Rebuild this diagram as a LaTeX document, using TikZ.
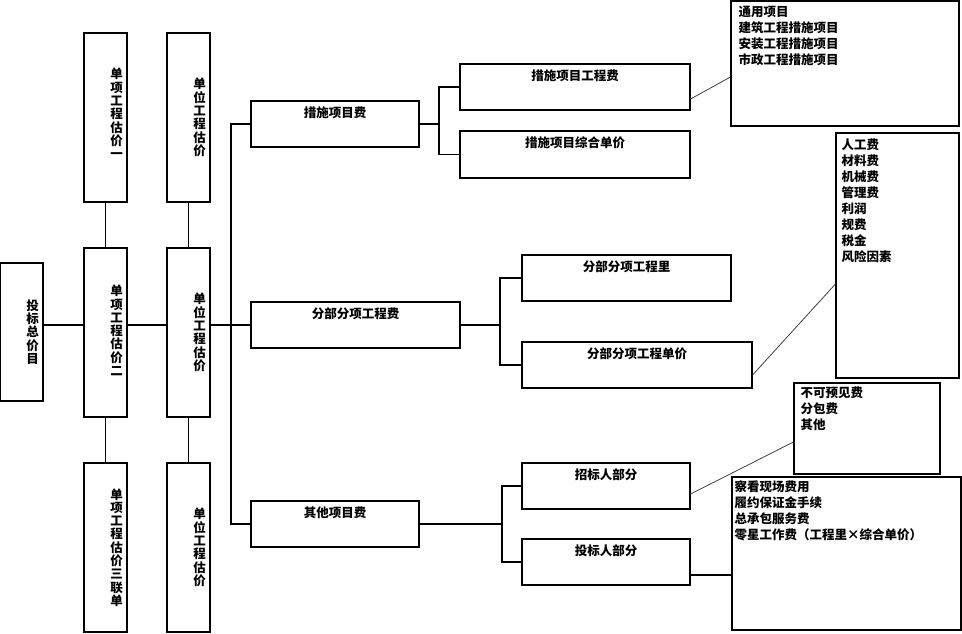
\documentclass[tikz,border=0pt]{standalone}
\usepackage{fontspec}
\setmainfont{Noto Sans CJK SC}
\usetikzlibrary{calc}
\begin{document}
\begin{tikzpicture}[x=1pt,y=-1pt,
  box/.style={draw=black,line width=1.1pt,inner sep=0pt,fill=white},
  lbl/.style={inner sep=0pt,font=\fontsize{12.5}{16}\selectfont\bfseries},
  vlbl/.style={inner sep=0pt,align=center,font=\fontsize{12.5}{13.3}\selectfont\bfseries},
  lst/.style={inner sep=0pt,anchor=north west,align=left,font=\fontsize{12.5}{16}\selectfont\bfseries},
  conn/.style={line width=1.1pt},
  diag/.style={line width=0.8pt,draw=black!75}]
\useasboundingbox (0,0) rectangle (962,633);
% left column boxes
\node[box,minimum width=42.5pt,minimum height=138pt] (tb) at (21.75,332) {};
\node[box,minimum width=43pt,minimum height=169pt] (d1) at (105.5,117.5) {};
\node[box,minimum width=43pt,minimum height=169pt] (u1) at (188.5,117.5) {};
\node[box,minimum width=43pt,minimum height=169pt] (d2) at (105.5,332.5) {};
\node[box,minimum width=43pt,minimum height=169pt] (u2) at (188.5,332.5) {};
\node[box,minimum width=43pt,minimum height=169pt] (d3) at (105.5,547.5) {};
\node[box,minimum width=43pt,minimum height=169pt] (u3) at (188.5,547.5) {};
\node[vlbl] (tbt) at ([xshift=11pt]tb.center) {投\\标\\总\\价\\目};
\node[vlbl] (d1t) at ([xshift=11pt,yshift=4pt]d1.center) {单\\项\\工\\程\\估\\价\\一};
\node[vlbl] (u1t) at ([xshift=11pt]u1.center) {单\\位\\工\\程\\估\\价};
\node[vlbl] (d2t) at ([xshift=11pt,yshift=2pt]d2.center) {单\\项\\工\\程\\估\\价\\二};
\node[vlbl] (u2t) at ([xshift=11pt]u2.center) {单\\位\\工\\程\\估\\价};
\node[vlbl] (d3t) at ([xshift=11pt]d3.center) {单\\项\\工\\程\\估\\价\\三\\联\\单};
\node[vlbl] (u3t) at ([xshift=11pt]u3.center) {单\\位\\工\\程\\估\\价};
% middle boxes
\node[box,minimum width=168pt,minimum height=46pt] (c1) at (335,124) {};
\node[box,minimum width=209pt,minimum height=46pt] (c2) at (355.5,325) {};
\node[box,minimum width=168pt,minimum height=46pt] (c3) at (335,524) {};
\node[box,minimum width=230pt,minimum height=46pt] (m1) at (575,87) {};
\node[box,minimum width=230pt,minimum height=47pt] (m2) at (575,154.5) {};
\node[box,minimum width=209pt,minimum height=46pt] (s1) at (626.5,278) {};
\node[box,minimum width=230pt,minimum height=46pt] (s2) at (637,365) {};
\node[box,minimum width=168pt,minimum height=46pt] (o1) at (606,486) {};
\node[box,minimum width=168pt,minimum height=46pt] (o2) at (606,562) {};
\foreach \n/\t in {c1/措施项目费,c2/分部分项工程费,c3/其他项目费,m1/措施项目工程费,m2/措施项目综合单价,s1/分部分项工程里,s2/分部分项工程单价,o1/招标人部分,o2/投标人部分}
  \node[lbl] (\n t) at ([yshift=-12.5pt]\n.north) {\t};
% list boxes
\node[box,minimum width=228pt,minimum height=125pt] (B1) at (845,63.5) {};
\node[box,minimum width=123pt,minimum height=245pt] (B2) at (897.5,255.5) {};
\node[box,minimum width=146pt,minimum height=91pt] (B3) at (867,428.5) {};
\node[box,minimum width=229pt,minimum height=153pt] (B4) at (846.5,553.5) {};
\node[lst] (B1t) at ([xshift=8pt,yshift=-5pt]B1.north west) {通用项目\\建筑工程措施项目\\安装工程措施项目\\市政工程措施项目};
\node[lst] (B2t) at ([xshift=6pt,yshift=-6pt]B2.north west) {人工费\\材料费\\机械费\\管理费\\利润\\规费\\税金\\风险因素};
\node[lst] (B3t) at ([xshift=7pt,yshift=-4pt]B3.north west) {不可预见费\\分包费\\其他};
\node[lst] (B4t) at ([xshift=3pt,yshift=-4pt]B4.north west) {察看现场费用\\履约保证金手续\\总承包服务费\\零星工作费（工程里×综合单价）};
% connectors left
\draw[conn] (d1.south) -- (d2.north);
\draw[conn] (d2.south) -- (d3.north);
\draw[conn] (u1.south) -- (u2.north);
\draw[conn] (u2.south) -- (u3.north);
\draw[conn] (tb.east |- c2.west) -- (d2.west |- c2.west);
\draw[conn] (d2.east |- c2.west) -- (u2.west |- c2.west);
\draw[conn] (u2.east |- c2.west) -- (c2.west);
\coordinate (trk1) at (231,124);
\coordinate (trk3) at (231,524);
\draw[conn] (c1.west) -- (trk1) -- (trk3) -- (c3.west);
% forks
\coordinate (f1) at (439,124);
\coordinate (f2) at (500,325);
\coordinate (f3) at (502,524);
\draw[conn] (c1.east) -- (f1);
\draw[conn] (m1.west) -| (f1) |- (m2.west);
\draw[conn] (c2.east) -- (f2);
\draw[conn] (s1.west) -| (f2) |- (s2.west);
\draw[conn] (c3.east) -- (f3);
\draw[conn] (o1.west) -| (f3) |- (o2.west);
% diagonals to list boxes
\draw[diag] (m1.east |- 0,99) -- (B1.west |- 0,77);
\draw[diag] (s2.east |- 0,375) -- (B2.west |- 0,284);
\draw[diag] (o1.east |- 0,494) -- (B3.west |- 0,442);
\draw[conn] (o2.east |- 0,575) -- (B4.west |- 0,575);
\end{tikzpicture}
\end{document}
